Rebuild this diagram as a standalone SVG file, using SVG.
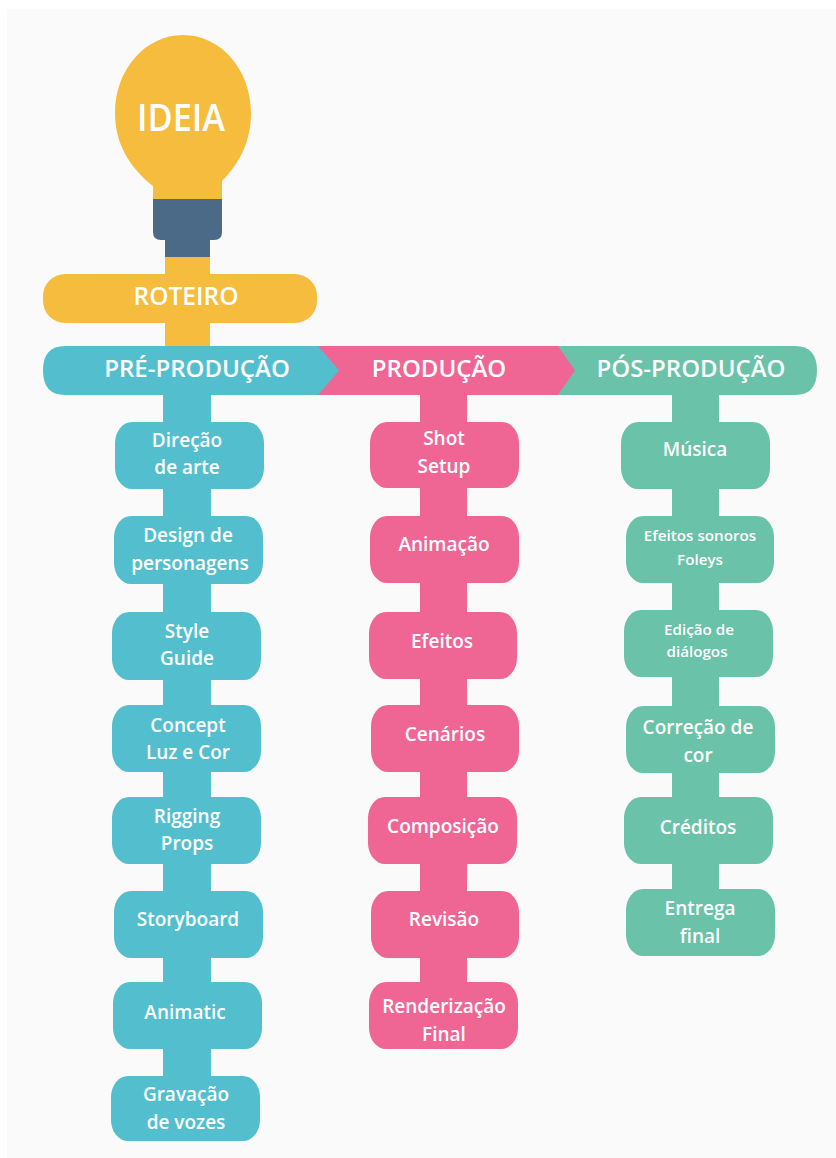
<svg xmlns="http://www.w3.org/2000/svg" width="836" height="1158" viewBox="0 0 836 1158">
<style>
text{font-family:"Open Sans","Noto Sans","Liberation Sans",sans-serif;font-weight:600;fill:#fff;text-anchor:middle}
.t{fill:#53BFCE}.p{fill:#EF6695}.g{fill:#6AC2A8}.y{fill:#F6BC3E}.n{fill:#4B6A87}
.s{font-size:19px}.xs{font-size:15.200px}.h{font-size:24px}
.ct{stroke:#53BFCE;stroke-width:48}.cp{stroke:#EF6695;stroke-width:47}.cg{stroke:#6AC2A8;stroke-width:47}.cy{stroke:#F6BC3E;stroke-width:45}
rect.b{rx:17px;ry:21px}
</style>
<rect width="836" height="1158" fill="#fff"/>
<rect x="7" y="9" width="829" height="1149" fill="#FAFAFA"/>
<g id="connectors">
<line class="cy" x1="187.500" y1="250" x2="187.500" y2="350"/>
<line class="ct" x1="187" y1="390" x2="187" y2="1100"/>
<line class="cp" x1="443.500" y1="390" x2="443.500" y2="1010"/>
<line class="cg" x1="695.500" y1="390" x2="695.500" y2="920"/>
</g>
<g id="ideia">
<path class="y" d="M153 205V186C129 167 115 143 115 113C115 70 145 35 183 35C221 35 251 70 251 113C251 143 238 165 222 181V205Z"/>
<path class="n" d="M153 199H222V232Q222 240 214 240H210V257H165V240H161Q153 240 153 232Z"/>
<text x="181" y="131" textLength="88" lengthAdjust="spacingAndGlyphs" style="font-size:38px">IDEIA</text>
</g>
<g id="roteiro">
<rect class="y" x="43" y="274" width="274" height="49" rx="22"/>
<text x="186" y="305" style="font-size:24.500px">ROTEIRO</text>
</g>
<g id="pos-producao">
<path class="g" d="M540 346H795Q817 346 817 370.500Q817 395 795 395H540Z"/>
<text x="691" y="377" class="h">PÓS-PRODUÇÃO</text>
</g>
<g id="producao">
<path class="p" d="M300 346H558L575 370.500L558 395H300Z"/>
<text x="439" y="377" class="h">PRODUÇÃO</text>
</g>
<g id="pre-producao">
<path class="t" d="M65 346H318L339 370.500L318 395H65Q43 395 43 370.500Q43 346 65 346Z"/>
<text x="197" y="377" class="h">PRÉ-PRODUÇÃO</text>
</g>
<g id="direcao"><rect class="t b" x="115" y="422" width="149" height="67"/><text x="187" y="447" class="s">Direção</text><text x="187" y="474" class="s">de arte</text></g>
<g id="design"><rect class="t b" x="114" y="516" width="149" height="68"/><text x="188" y="542" class="s">Design de</text><text x="190" y="570" class="s">personagens</text></g>
<g id="style-guide"><rect class="t b" x="112" y="612" width="149" height="68"/><text x="187" y="638" class="s">Style</text><text x="187" y="665" class="s">Guide</text></g>
<g id="concept"><rect class="t b" x="112" y="705" width="149" height="67"/><text x="188" y="732" class="s">Concept</text><text x="188" y="759" class="s">Luz e Cor</text></g>
<g id="rigging"><rect class="t b" x="112" y="797" width="149" height="67"/><text x="187" y="823" class="s">Rigging</text><text x="187" y="850" class="s">Props</text></g>
<g id="storyboard"><rect class="t b" x="114" y="891" width="149" height="67"/><text x="188" y="926" class="s">Storyboard</text></g>
<g id="animatic"><rect class="t b" x="113" y="982" width="149" height="67"/><text x="185" y="1019" class="s">Animatic</text></g>
<g id="gravacao"><rect class="t b" x="111" y="1076" width="149" height="65"/><text x="186" y="1101" class="s">Gravação</text><text x="186" y="1129" class="s">de vozes</text></g>
<g id="shot-setup"><rect class="p b" x="370" y="422" width="149" height="66"/><text x="444" y="445" class="s">Shot</text><text x="444" y="473" class="s">Setup</text></g>
<g id="animacao"><rect class="p b" x="370" y="516" width="149" height="67"/><text x="444" y="551" class="s">Animação</text></g>
<g id="efeitos"><rect class="p b" x="369" y="612" width="148" height="67"/><text x="442" y="648" class="s">Efeitos</text></g>
<g id="cenarios"><rect class="p b" x="371" y="705" width="148" height="67"/><text x="445" y="741" class="s">Cenários</text></g>
<g id="composicao"><rect class="p b" x="368" y="797" width="149" height="67"/><text x="443" y="833" class="s">Composição</text></g>
<g id="revisao"><rect class="p b" x="371" y="891" width="148" height="67"/><text x="444" y="926" class="s">Revisão</text></g>
<g id="renderizacao"><rect class="p b" x="369" y="982" width="149" height="67"/><text x="444" y="1013" class="s">Renderização</text><text x="444" y="1041" class="s">Final</text></g>
<g id="musica"><rect class="g b" x="621" y="422" width="149" height="67"/><text x="695" y="456" class="s">Música</text></g>
<g id="efeitos-sonoros"><rect class="g b" x="626" y="516" width="148" height="67"/><text x="700" y="541" class="xs">Efeitos sonoros</text><text x="700" y="565" class="xs">Foleys</text></g>
<g id="edicao"><rect class="g b" x="624" y="610" width="149" height="67"/><text x="699" y="635" class="xs">Edição de</text><text x="697" y="657" class="xs">diálogos</text></g>
<g id="correcao"><rect class="g b" x="626" y="706" width="149" height="67"/><text x="698" y="734" class="s">Correção de</text><text x="698" y="762" class="s">cor</text></g>
<g id="creditos"><rect class="g b" x="624" y="797" width="149" height="67"/><text x="698" y="834" class="s">Créditos</text></g>
<g id="entrega"><rect class="g b" x="626" y="889" width="149" height="67"/><text x="700" y="915" class="s">Entrega</text><text x="700" y="943" class="s">final</text></g>
</svg>
